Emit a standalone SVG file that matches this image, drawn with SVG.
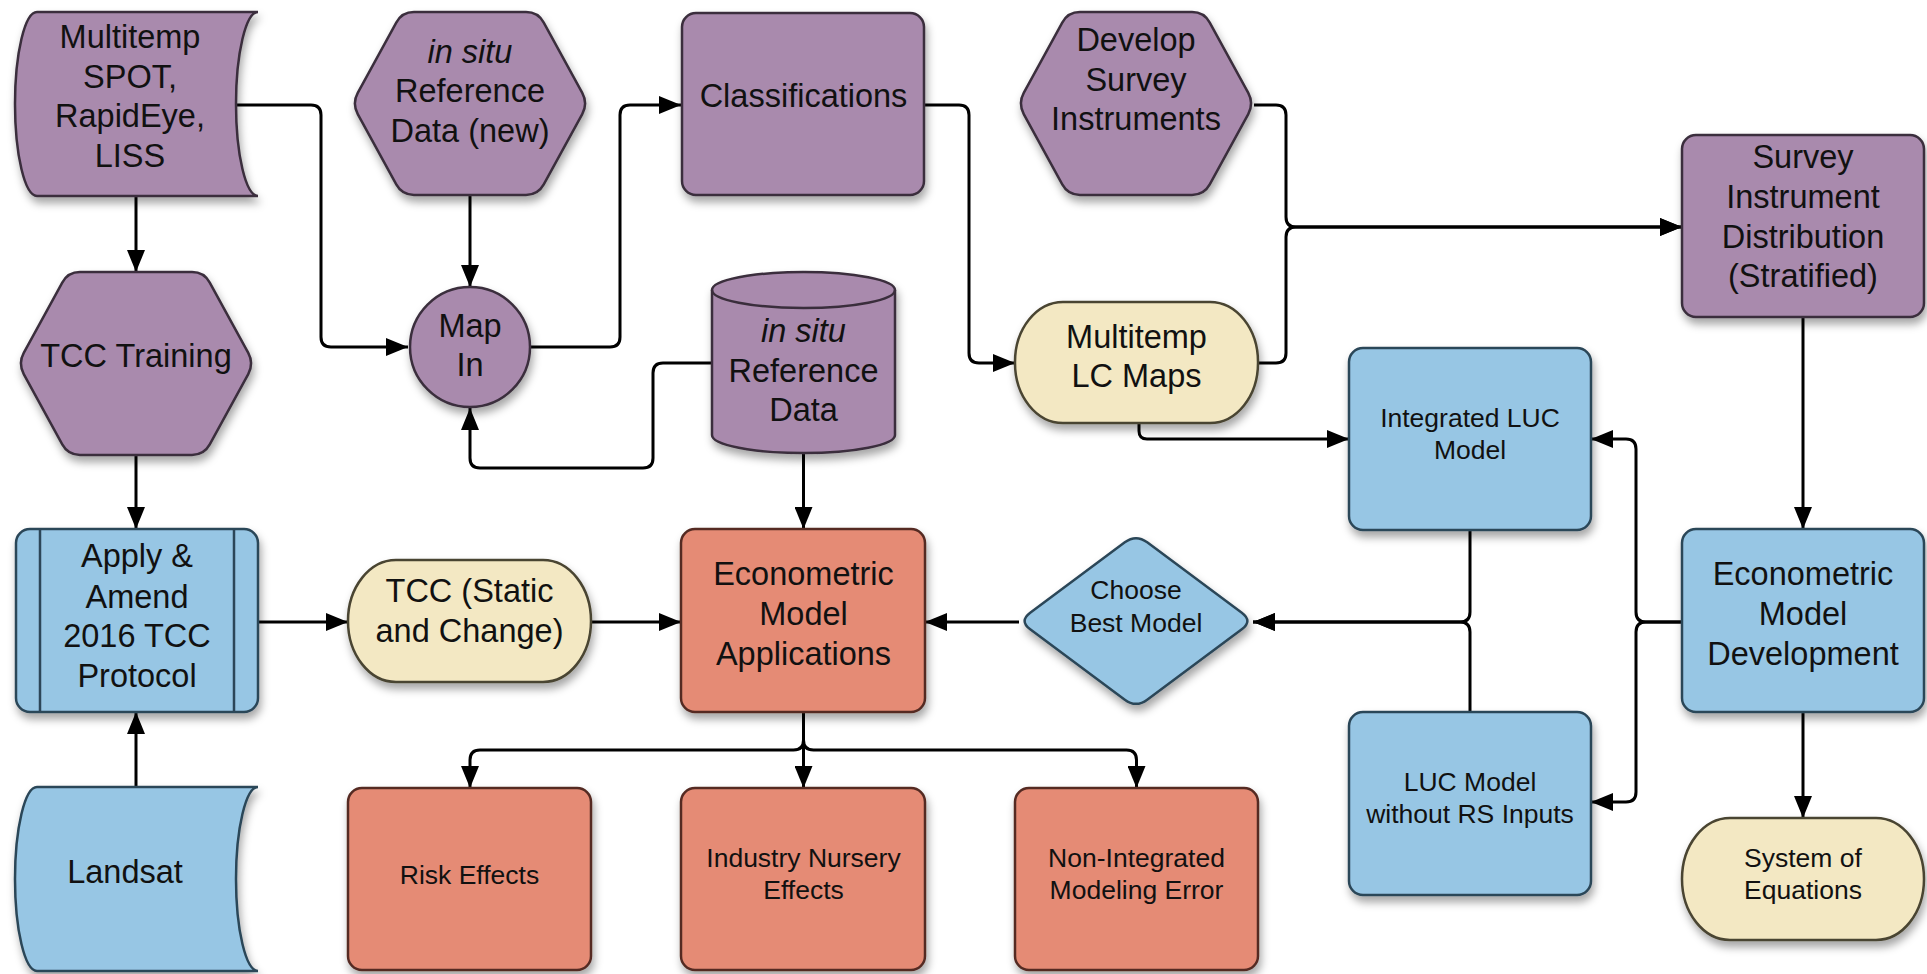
<svg xmlns="http://www.w3.org/2000/svg" xmlns:xlink="http://www.w3.org/1999/xlink" width="1927" height="974" viewBox="0 0 1927 974">
<style>
text{font-family:"Liberation Sans",Arial,sans-serif;fill:#111;text-anchor:middle}
.b{font-size:32.5px}
.s{font-size:26.5px}
.it{font-style:italic}
.pu{fill:#a98aad;stroke:#3a2e3c;stroke-width:2.5}
.bl{fill:#97c6e4;stroke:#2c4658;stroke-width:2.5}
.or{fill:#e58b74;stroke:#552c24;stroke-width:2.5}
.ye{fill:#f3e8c3;stroke:#4a4431;stroke-width:2.5}
.sh{filter:url(#shadow)}
.c path{fill:none;stroke:#000;stroke-width:3}
.c .a{marker-end:url(#arr)}
</style>
<defs>
<filter id="shadow" x="-20%" y="-20%" width="140%" height="150%">
<feDropShadow dx="2" dy="6" stdDeviation="4" flood-color="#000" flood-opacity="0.35"/>
</filter>
<marker id="arr" markerUnits="userSpaceOnUse" markerWidth="22" markerHeight="18" refX="22" refY="9" orient="auto">
<path d="M0 0 L22 9 L0 18 Z" fill="#000"/>
</marker>
<path id="hex" d="M 5.75 80.97 L 44.25 10.53 Q 50 0 62 0 L 174 0 Q 186 0 191.75 10.53 L 230.25 80.97 Q 236 91.5 230.25 102.03 L 191.75 172.47 Q 186 183 174 183 L 62 183 Q 50 183 44.25 172.47 L 5.75 102.03 Q 0 91.5 5.75 80.97 Z"/>
<path id="store" d="M 22 0 H 243 A 22 92 0 0 0 243 184 H 22 A 22 92 0 0 1 22 0 Z"/>
</defs>
<rect width="1927" height="974" fill="#fff"/>

<g id="connectors" class="c">
<path class="a" d="M 236 105 H 311 Q 321 105 321 115 V 337 Q 321 347 331 347 H 408"/>
<path class="a" d="M 470 195 V 287"/>
<path class="a" d="M 530 347 H 610 Q 620 347 620 337 V 115 Q 620 105 630 105 H 681"/>
<path class="a" d="M 712 363 H 663 Q 653 363 653 373 V 458 Q 653 468 643 468 H 480 Q 470 468 470 458 V 408"/>
<path class="a" d="M 136 196 V 272"/>
<path class="a" d="M 136 455 V 529"/>
<path class="a" d="M 136 787 V 712"/>
<path class="a" d="M 258 622 H 348"/>
<path class="a" d="M 591 622 H 681"/>
<path class="a" d="M 803.5 453 V 529"/>
<path class="a" d="M 925 105 H 959 Q 969 105 969 115 V 353 Q 969 363 979 363 H 1015"/>
<path class="a" d="M 1254 105 H 1276 Q 1286 105 1286 115 V 217 Q 1286 227 1296 227 H 1682"/>
<path class="a" d="M 1258 363 H 1276 Q 1286 363 1286 353 V 237 Q 1286 227 1296 227 H 1682"/>
<path class="a" d="M 1139 423 V 431 Q 1139 439 1147 439 H 1349"/>
<path class="a" d="M 1803 317 V 529"/>
<path class="a" d="M 1682 622 H 1646 Q 1636 622 1636 612 V 449 Q 1636 439 1626 439 H 1591"/>
<path class="a" d="M 1682 622 H 1646 Q 1636 622 1636 632 V 792 Q 1636 802 1626 802 H 1591"/>
<path class="a" d="M 1470 530 V 612 Q 1470 622 1460 622 H 1253"/>
<path class="a" d="M 1470 712 V 632 Q 1470 622 1460 622 H 1253"/>
<path class="a" d="M 1019 622 H 925"/>
<path class="a" d="M 803.5 712 V 740 Q 803.5 750 793.5 750 H 480 Q 470 750 470 760 V 788"/>
<path class="a" d="M 803.5 712 V 788"/>
<path class="a" d="M 803.5 712 V 740 Q 803.5 750 813.5 750 H 1126.5 Q 1136.5 750 1136.5 760 V 788"/>
<path class="a" d="M 1803 712 V 818"/>
</g>

<g id="n-multitemp-spot">
<use xlink:href="#store" href="#store" class="pu sh" transform="translate(15 12)"/>
<text class="b"><tspan x="130" y="48">Multitemp</tspan><tspan x="130" y="88">SPOT,</tspan><tspan x="130" y="127">RapidEye,</tspan><tspan x="130" y="167">LISS</tspan></text>
</g>
<g id="n-insitu-new">
<use xlink:href="#hex" href="#hex" class="pu sh" transform="translate(352 12)"/>
<text class="b"><tspan x="470" y="63" class="it">in situ</tspan><tspan x="470" y="102">Reference</tspan><tspan x="470" y="142">Data (new)</tspan></text>
</g>
<g id="n-classifications">
<rect x="682" y="13" width="242" height="182" rx="14" class="pu sh"/>
<text class="b" x="803.5" y="107">Classifications</text>
</g>
<g id="n-develop-survey">
<use xlink:href="#hex" href="#hex" class="pu sh" transform="translate(1018 12)"/>
<text class="b"><tspan x="1136" y="51">Develop</tspan><tspan x="1136" y="91">Survey</tspan><tspan x="1136" y="130">Instruments</tspan></text>
</g>
<g id="n-survey-dist">
<rect x="1682" y="135" width="242" height="182" rx="14" class="pu sh"/>
<text class="b"><tspan x="1803" y="168">Survey</tspan><tspan x="1803" y="208">Instrument</tspan><tspan x="1803" y="248">Distribution</tspan><tspan x="1803" y="287">(Stratified)</tspan></text>
</g>
<g id="n-tcc-training">
<use xlink:href="#hex" href="#hex" class="pu sh" transform="translate(18 272)"/>
<text class="b" x="136" y="367">TCC Training</text>
</g>
<g id="n-map-in">
<circle cx="470" cy="347" r="60" class="pu sh"/>
<text class="b"><tspan x="470" y="337">Map</tspan><tspan x="470" y="376">In</tspan></text>
</g>
<g id="n-insitu-ref">
<path d="M 712 290 A 91.5 18 0 0 1 895 290 V 435 A 91.5 18 0 0 1 712 435 Z" class="pu sh"/>
<path d="M 712 290 A 91.5 18 0 0 0 895 290" class="pu" fill="none" style="fill:none"/>
<text class="b"><tspan x="803.5" y="342" class="it">in situ</tspan><tspan x="803.5" y="382">Reference</tspan><tspan x="803.5" y="421">Data</tspan></text>
</g>
<g id="n-lc-maps">
<rect x="1015" y="302" width="243" height="121" rx="48" ry="60" class="ye sh"/>
<text class="b"><tspan x="1136.5" y="348">Multitemp</tspan><tspan x="1136.5" y="387">LC Maps</tspan></text>
</g>
<g id="n-integrated-luc">
<rect x="1349" y="348" width="242" height="182" rx="14" class="bl sh"/>
<text class="s"><tspan x="1470" y="427">Integrated LUC</tspan><tspan x="1470" y="459">Model</tspan></text>
</g>
<g id="n-apply-amend">
<rect x="16" y="529" width="242" height="183" rx="14" class="bl sh"/>
<path d="M 40 529 V 712 M 234 529 V 712" stroke="#2c4658" stroke-width="2.5" fill="none"/>
<text class="b"><tspan x="137" y="567">Apply &amp;</tspan><tspan x="137" y="608">Amend</tspan><tspan x="137" y="647">2016 TCC</tspan><tspan x="137" y="687">Protocol</tspan></text>
</g>
<g id="n-tcc-static">
<rect x="348" y="560" width="243" height="122" rx="48" ry="61" class="ye sh"/>
<text class="b"><tspan x="469.5" y="602">TCC (Static</tspan><tspan x="469.5" y="642">and Change)</tspan></text>
</g>
<g id="n-econ-app">
<rect x="681" y="529" width="244" height="183" rx="14" class="or sh"/>
<text class="b"><tspan x="803.5" y="585">Econometric</tspan><tspan x="803.5" y="625">Model</tspan><tspan x="803.5" y="665">Applications</tspan></text>
</g>
<g id="n-choose">
<path d="M 1147.2 542.35 L 1241.8 612.65 Q 1253 621 1241.8 629.35 L 1147.2 699.65 Q 1136 708 1124.8 699.65 L 1030.2 629.35 Q 1019 621 1030.2 612.65 L 1124.8 542.35 Q 1136 534 1147.2 542.35 Z" class="bl sh"/>
<text class="s"><tspan x="1136" y="599">Choose</tspan><tspan x="1136" y="632">Best Model</tspan></text>
</g>
<g id="n-econ-dev">
<rect x="1682" y="529" width="242" height="183" rx="14" class="bl sh"/>
<text class="b"><tspan x="1803" y="585">Econometric</tspan><tspan x="1803" y="625">Model</tspan><tspan x="1803" y="665">Development</tspan></text>
</g>
<g id="n-landsat">
<use xlink:href="#store" href="#store" class="bl sh" transform="translate(15 787)"/>
<text class="b" x="125" y="883">Landsat</text>
</g>
<g id="n-risk">
<rect x="348" y="788" width="243" height="182" rx="14" class="or sh"/>
<text class="s" x="469.5" y="884">Risk Effects</text>
</g>
<g id="n-industry">
<rect x="681" y="788" width="244" height="182" rx="14" class="or sh"/>
<text class="s"><tspan x="803.5" y="867">Industry Nursery</tspan><tspan x="803.5" y="899">Effects</tspan></text>
</g>
<g id="n-nonint">
<rect x="1015" y="788" width="243" height="182" rx="14" class="or sh"/>
<text class="s"><tspan x="1136.5" y="867">Non-Integrated</tspan><tspan x="1136.5" y="899">Modeling Error</tspan></text>
</g>
<g id="n-luc-without">
<rect x="1349" y="712" width="242" height="183" rx="14" class="bl sh"/>
<text class="s"><tspan x="1470" y="791">LUC Model</tspan><tspan x="1470" y="823">without RS Inputs</tspan></text>
</g>
<g id="n-system">
<rect x="1682" y="818" width="242" height="122" rx="48" ry="61" class="ye sh"/>
<text class="s"><tspan x="1803" y="867">System of</tspan><tspan x="1803" y="899">Equations</tspan></text>
</g>
</svg>
